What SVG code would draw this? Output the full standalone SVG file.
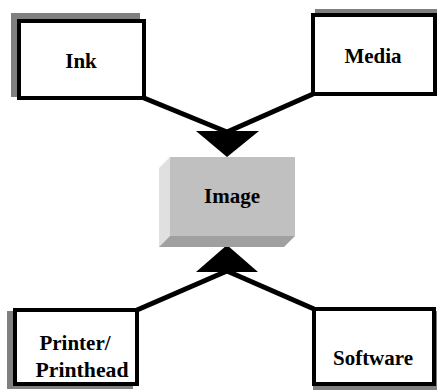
<svg xmlns="http://www.w3.org/2000/svg" width="437" height="391" viewBox="0 0 437 391">
<style>
.box{fill:#fff;stroke:#000;stroke-width:4}
.shadow{fill:#808080}
.lbl{font-family:"Liberation Serif","Times New Roman",serif;font-weight:bold;font-size:21px;fill:#000;text-anchor:middle}
.conn{stroke:#000;stroke-width:5;fill:none}
</style>
<rect width="437" height="391" fill="#fff"/>
<g id="connectors">
<line class="conn" x1="144" y1="98" x2="227" y2="132"/>
<line class="conn" x1="313" y1="94" x2="227" y2="132"/>
<line class="conn" x1="137" y1="310" x2="227" y2="271"/>
<line class="conn" x1="314" y1="309" x2="227" y2="271"/>
<polygon points="196,131 259,131 227,157" fill="#000"/>
<polygon points="227,245 196,272 258,272" fill="#000"/>
</g>
<g id="ink">
<rect class="shadow" x="11" y="13" width="129" height="84"/>
<rect class="box" x="19" y="21" width="125" height="77"/>
<text class="lbl" x="81" y="68">Ink</text>
</g>
<g id="media">
<rect class="shadow" x="315" y="9" width="126" height="83"/>
<rect class="box" x="313" y="15" width="122" height="79"/>
<text class="lbl" x="373" y="63">Media</text>
</g>
<g id="image">
<polygon points="170,157 159,168 159,247 170,236" fill="#e0e0e0"/>
<polygon points="170,236 295,236 284,247 159,247" fill="#a0a0a0"/>
<rect x="170" y="157" width="125" height="79" fill="#c0c0c0"/>
<text class="lbl" x="232" y="203">Image</text>
</g>
<g id="printer">
<rect class="shadow" x="7" y="311" width="126" height="78"/>
<rect class="box" x="15" y="310" width="122" height="74"/>
<text class="lbl" x="75" y="350">Printer/</text>
<text class="lbl" x="82" y="377" textLength="93" lengthAdjust="spacingAndGlyphs">Printhead</text>
</g>
<g id="software">
<rect class="shadow" x="313" y="311" width="124" height="79"/>
<rect class="box" x="314" y="309" width="120" height="75"/>
<text class="lbl" x="373" y="365">Software</text>
</g>
</svg>
